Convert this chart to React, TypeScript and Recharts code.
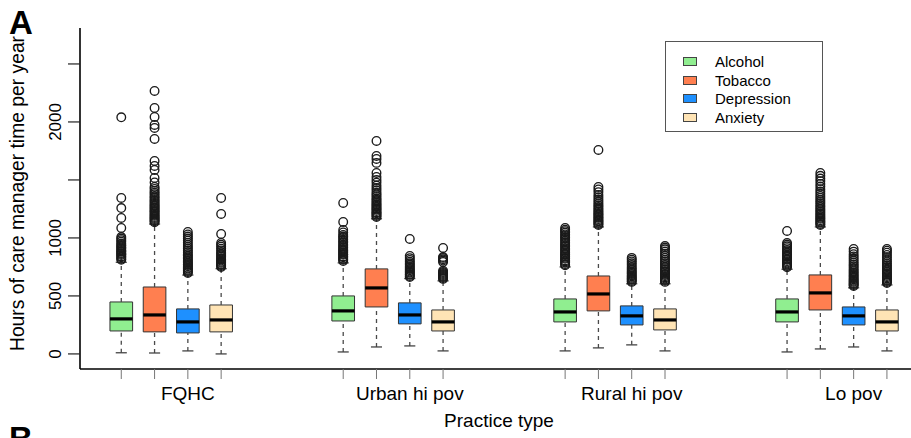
import React from "react";
import {
  ComposedChart,
  XAxis,
  YAxis,
  Scatter,
  ReferenceArea,
  ReferenceLine,
  Legend,
} from "recharts";

const FONT = '"Liberation Sans", Arial, Helvetica, sans-serif';

const practiceTypes = ["FQHC", "Urban hi pov", "Rural hi pov", "Lo pov"];
const conditions = ["Alcohol", "Tobacco", "Depression", "Anxiety"];
const conditionColors = ["#90EE90", "#FF7F50", "#1E90FF", "#FFE4B5"];

// [lower whisker, Q1, median, Q3, upper whisker], one per practice type
const alcoholBoxes = [
  [10, 198, 302, 448, 790],
  [17, 284, 371, 500, 785],
  [26, 276, 362, 474, 750],
  [17, 276, 362, 474, 730],
];
const tobaccoBoxes = [
  [8, 190, 336, 577, 1120],
  [60, 405, 569, 733, 1165],
  [52, 371, 517, 672, 1095],
  [43, 379, 526, 681, 1095],
];
const depressionBoxes = [
  [26, 181, 276, 388, 680],
  [69, 259, 336, 440, 650],
  [78, 250, 328, 414, 605],
  [60, 250, 328, 405, 570],
];
const anxietyBoxes = [
  [0, 190, 293, 422, 735],
  [26, 198, 276, 379, 630],
  [26, 207, 293, 388, 605],
  [26, 198, 276, 379, 595],
];

// outlying practices (hours per year), one list per practice type
const alcoholOutliers = [
  [812, 821, 833, 840, 852, 861, 869, 880, 888, 897, 910, 918, 931, 940, 952, 968, 981, 995, 1008, 1086, 1172, 1258, 1345, 2040],
  [801, 812, 820, 833, 841, 855, 862, 874, 886, 893, 905, 917, 930, 941, 958, 970, 984, 1000, 1012, 1026, 1047, 1069, 1138, 1302],
  [765, 774, 788, 797, 806, 820, 828, 841, 852, 861, 875, 887, 898, 910, 925, 936, 948, 962, 975, 990, 1003, 1017, 1030, 1046, 1058, 1071, 1086],
  [748, 757, 770, 779, 788, 800, 812, 821, 835, 846, 858, 870, 884, 897, 912, 928, 943, 957, 1060],
];
const tobaccoOutliers = [
  [1135, 1144, 1152, 1163, 1171, 1180, 1192, 1200, 1211, 1223, 1231, 1240, 1254, 1262, 1275, 1284, 1296, 1310, 1321, 1334, 1348, 1360, 1377, 1390, 1405, 1423, 1440, 1478, 1517, 1586, 1621, 1664, 1853, 1948, 1974, 2043, 2121, 2267],
  [1181, 1190, 1201, 1212, 1220, 1233, 1245, 1253, 1266, 1278, 1290, 1302, 1316, 1329, 1342, 1360, 1375, 1390, 1411, 1430, 1452, 1477, 1500, 1526, 1560, 1647, 1681, 1707, 1836],
  [1112, 1121, 1130, 1142, 1150, 1162, 1173, 1181, 1195, 1204, 1216, 1228, 1240, 1253, 1268, 1282, 1297, 1314, 1331, 1350, 1371, 1395, 1418, 1440, 1759],
  [1112, 1120, 1133, 1141, 1152, 1166, 1175, 1188, 1200, 1213, 1225, 1239, 1252, 1266, 1280, 1296, 1311, 1327, 1345, 1362, 1381, 1400, 1420, 1443, 1466, 1490, 1512, 1536, 1560],
];
const depressionOutliers = [
  [698, 706, 717, 725, 736, 744, 755, 766, 774, 786, 797, 808, 820, 833, 847, 860, 876, 890, 906, 922, 940, 958, 977, 995, 1012, 1030, 1052],
  [664, 671, 682, 690, 701, 710, 721, 733, 744, 756, 769, 781, 795, 810, 826, 845, 991],
  [621, 629, 640, 648, 657, 668, 677, 688, 699, 711, 723, 737, 750, 766, 781, 797, 812, 828],
  [586, 594, 603, 612, 622, 631, 642, 653, 665, 676, 689, 701, 714, 728, 742, 757, 772, 788, 805, 822, 840, 860, 882, 905],
];
const anxietyOutliers = [
  [750, 758, 767, 775, 786, 794, 805, 815, 826, 838, 850, 863, 877, 892, 908, 925, 941, 957, 1034, 1207, 1345],
  [647, 655, 663, 671, 680, 689, 698, 707, 718, 793, 805, 816, 828, 836, 914],
  [621, 630, 639, 650, 659, 670, 681, 690, 702, 714, 726, 739, 752, 766, 780, 795, 811, 828, 846, 864, 883, 902, 917, 931],
  [612, 620, 631, 640, 651, 661, 672, 684, 696, 708, 721, 735, 749, 764, 780, 797, 815, 834, 853, 873, 890, 905],
];

const yTicks = [0, 500, 1000, 1500, 2000, 2500];
const yTickLabels = ["0", "500", "1000", "", "2000", ""];

const allBoxes = [alcoholBoxes, tobaccoBoxes, depressionBoxes, anxietyBoxes];
const allOutliers = [alcoholOutliers, tobaccoOutliers, depressionOutliers, anxietyOutliers];

// layout: boxes sit around each practice type, third box on the group centre
const boxOffsets = [-0.3, -0.15, 0, 0.15];
const boxHalf = 0.051;
const capHalf = 0.025;

const boxX = (c: number, g: number) => g + 1 + boxOffsets[c];
const xTicks = practiceTypes.flatMap((_, g) => conditions.map((_, c) => boxX(c, g)));

function OutlierDot(props: { cx?: number; cy?: number }) {
  const { cx, cy } = props;
  if (cx == null || cy == null) return null;
  return <circle cx={cx} cy={cy} r={4.3} fill="none" stroke="#1a1a1a" strokeWidth={1.35} />;
}

function XTick(props: any) {
  const { x, y, payload } = props;
  const g = practiceTypes.findIndex((_, i) => Math.abs(boxX(2, i) - payload.value) < 1e-6);
  if (g < 0) return null;
  return (
    <text x={x} y={y + 19} textAnchor="middle" fontSize={19} fontFamily={FONT} fill="#000">
      {practiceTypes[g]}
    </text>
  );
}

function YTick(props: any) {
  const { x, y, payload } = props;
  const label = yTickLabels[yTicks.indexOf(payload.value)];
  if (!label) return null;
  return (
    <text
      x={x}
      y={y}
      transform={`rotate(-90, ${x}, ${y})`}
      textAnchor="middle"
      fontSize={17}
      fontFamily={FONT}
      fill="#000"
    >
      {label}
    </text>
  );
}

function renderYTitle({ viewBox }: any) {
  const cx = viewBox.x + 24;
  const cy = viewBox.y + viewBox.height / 2 - 5;
  return (
    <text x={cx} y={cy} transform={`rotate(-90, ${cx}, ${cy})`} textAnchor="middle" fontSize={19.3} fontFamily={FONT} fill="#000">
      Hours of care manager time per year
    </text>
  );
}

function renderXTitle({ viewBox }: any) {
  return (
    <text x={viewBox.x + viewBox.width / 2} y={viewBox.y + 58} textAnchor="middle" fontSize={19} fontFamily={FONT} fill="#000">
      Practice type
    </text>
  );
}

function LegendBox() {
  return (
    <div
      style={{
        border: "1px solid #555",
        background: "#fff",
        width: 158,
        height: 91,
        boxSizing: "border-box",
        paddingTop: 10,
        fontFamily: FONT,
      }}
    >
      {conditions.map((name, i) => (
        <div key={name} style={{ height: 18.7, display: "flex", alignItems: "center" }}>
          <span
            style={{
              display: "inline-block",
              marginLeft: 17,
              width: 14,
              height: 9,
              background: conditionColors[i],
              border: "1px solid #444",
              boxSizing: "border-box",
            }}
          />
          <span style={{ marginLeft: 18, fontSize: 15, color: "#000" }}>{name}</span>
        </div>
      ))}
    </div>
  );
}

export default function App() {
  const boxElements = allBoxes.flatMap((boxes, c) =>
    boxes.map(([lo, q1, med, q3, hi], g) => {
      const x = boxX(c, g);
      const key = `${c}-${g}`;
      return (
        <React.Fragment key={key}>
          <ReferenceLine segment={[{ x, y: q3 }, { x, y: hi }]} stroke="#4a4a4a" strokeWidth={1.3} strokeDasharray="4 4" />
          <ReferenceLine segment={[{ x, y: lo }, { x, y: q1 }]} stroke="#4a4a4a" strokeWidth={1.3} strokeDasharray="4 4" />
          <ReferenceLine segment={[{ x: x - capHalf, y: lo }, { x: x + capHalf, y: lo }]} stroke="#444" strokeWidth={1.3} />
          <ReferenceLine segment={[{ x: x - capHalf, y: hi }, { x: x + capHalf, y: hi }]} stroke="#444" strokeWidth={1.3} />
          <ReferenceArea
            x1={x - boxHalf}
            x2={x + boxHalf}
            y1={q1}
            y2={q3}
            fill={conditionColors[c]}
            fillOpacity={1}
            stroke="#333"
            strokeWidth={1}
            ifOverflow="visible"
          />
          <ReferenceLine segment={[{ x: x - boxHalf, y: med }, { x: x + boxHalf, y: med }]} stroke="#000" strokeWidth={3.2} />
        </React.Fragment>
      );
    })
  );

  return (
    <div
      style={{
        position: "absolute",
        left: 0,
        top: 0,
        width: 911,
        height: 438,
        overflow: "hidden",
        background: "#fff",
        fontFamily: FONT,
      }}
    >
      <ComposedChart width={930} height={438} margin={{ top: 28, right: 12, bottom: 0, left: 0 }}>
        <XAxis
          xAxisId={0}
          type="number"
          dataKey="x"
          domain={[0.514, 4.29]}
          ticks={xTicks}
          interval={0}
          allowDataOverflow
          height={69}
          tickSize={10}
          tickMargin={2}
          tick={<XTick />}
          tickLine={{ stroke: "#777", strokeWidth: 1 }}
          axisLine={{ stroke: "#000", strokeWidth: 1.6 }}
          label={renderXTitle}
        />
        <XAxis
          xAxisId="top"
          orientation="top"
          type="number"
          domain={[0.514, 4.29]}
          height={0}
          tick={false}
          tickLine={false}
          axisLine={{ stroke: "#000", strokeWidth: 1.3 }}
        />
        <YAxis
          type="number"
          dataKey="y"
          domain={[-130, 2810]}
          ticks={yTicks}
          interval={0}
          allowDataOverflow
          width={80}
          tickSize={12}
          tickMargin={7}
          tick={<YTick />}
          tickLine={{ stroke: "#222", strokeWidth: 1.2 }}
          axisLine={{ stroke: "#000", strokeWidth: 1.6 }}
          label={renderYTitle}
        />
        {boxElements}
        {conditions.map((name, c) => (
          <Scatter
            key={name}
            name={name}
            data={allOutliers[c].flatMap((vals, g) => vals.map((v) => ({ x: boxX(c, g), y: v })))}
            fill={conditionColors[c]}
            shape={<OutlierDot />}
            isAnimationActive={false}
          />
        ))}
        <Legend
          layout="vertical"
          align="center"
          verticalAlign="middle"
          content={<LegendBox />}
          wrapperStyle={{ left: 665, top: 41, width: 158, height: 91 }}
        />
      </ComposedChart>
      <svg
        width={911}
        height={438}
        style={{ position: "absolute", left: 0, top: 0, pointerEvents: "none" }}
      >
        <text x={9} y={34} fontSize={33} fontWeight="bold" fontFamily={FONT} fill="#000">
          A
        </text>
        <text x={9} y={450} fontSize={33} fontWeight="bold" fontFamily={FONT} fill="#000">
          B
        </text>
      </svg>
    </div>
  );
}
